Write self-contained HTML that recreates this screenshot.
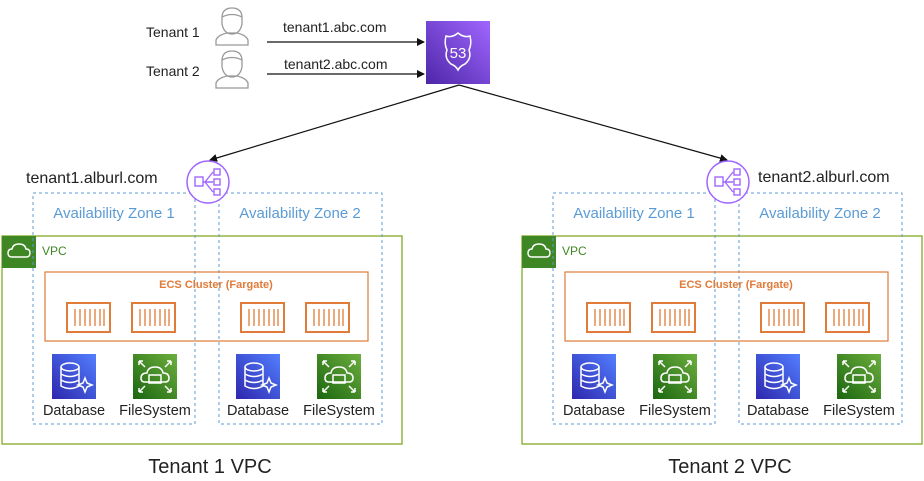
<!DOCTYPE html>
<html><head><meta charset="utf-8"><style>
body{margin:0;background:#fff;}
svg{display:block;font-family:"Liberation Sans","DejaVu Sans",sans-serif;}
</style></head><body>
<svg width="924" height="481" viewBox="0 0 924 481" xmlns="http://www.w3.org/2000/svg">
<defs>
<marker id="ah" markerWidth="8" markerHeight="8" refX="7" refY="4" orient="auto" markerUnits="userSpaceOnUse"><path d="M0,0 L8,4 L0,8 z" fill="#111"/></marker>
<linearGradient id="r53" x1="0" y1="1" x2="1" y2="0"><stop offset="0" stop-color="#4d27a8"/><stop offset="1" stop-color="#a166ff"/></linearGradient>
<linearGradient id="db" x1="0" y1="1" x2="1" y2="0"><stop offset="0" stop-color="#2e27ad"/><stop offset="1" stop-color="#527fff"/></linearGradient>
<linearGradient id="fs" x1="0" y1="1" x2="1" y2="0"><stop offset="0" stop-color="#1b660f"/><stop offset="1" stop-color="#6cae3e"/></linearGradient>
<g id="person" fill="none" stroke="#999" stroke-width="1.3">
<path d="M-10,-8 Q-10,-18 0,-18 Q10,-18 10,-8 L10,-2 Q8,8 0,8 Q-8,8 -10,-2 Z"/>
<path d="M-10,-9 Q0,-14 10,-9"/>
<path d="M-16,19 L-16,14 Q-14,9 -5,7 L5,7 Q14,9 16,14 L16,19 Z"/>
</g>
<g id="cont" fill="none" stroke="#e07b39" stroke-width="2">
<rect x="0" y="0" width="43" height="29"/>
<path d="M8,6V23M13,6V23M18,6V23M23,6V23M28,6V23M33,6V23M37,6V23" stroke-width="1.3"/>
</g>
<g id="dbi">
<rect width="44" height="45" fill="url(#db)"/>
<g fill="none" stroke="#fff" stroke-width="1.5"><ellipse cx="18" cy="13" rx="9" ry="4"/><path d="M9,13V32Q18,37 27,32V13M9,20Q18,25 27,20M9,26Q18,31 27,26"/><path d="M33,24l2,5 5,2 -5,2 -2,5 -2,-5 -5,-2 5,-2z"/></g>
</g>
<g id="fsi">
<rect width="44" height="45" fill="url(#fs)"/>
<g fill="none" stroke="#fff" stroke-width="1.5"><path d="M12,28Q8,28 8,24Q8,19 14,19Q15,13 22,13Q29,13 30,19Q36,19 36,24Q36,28 32,28Z"/><rect x="16" y="21" width="12" height="8"/><path d="M6,7l6,6M6,7h4M6,7v4M38,7l-6,6M38,7h-4M38,7v4M6,38l6,-6M6,38h4M6,38v-4M38,38l-6,-6M38,38h-4M38,38v-4"/></g>
</g>
<g id="alb">
<circle cx="0" cy="0" r="21" fill="#fff" stroke="#a166ff" stroke-width="1.5"/>
<g fill="none" stroke="#a166ff" stroke-width="1.4"><rect x="-13" y="-5" width="8" height="9"/><rect x="6" y="-13" width="6" height="6"/><rect x="6" y="-3" width="6" height="6"/><rect x="6" y="7" width="6" height="6"/><path d="M-5,0H5M-3,0L5,-10M-3,0L5,10"/></g>
</g>
<g id="block">
<rect x="2" y="236" width="400" height="208" fill="none" stroke="#7aa116" stroke-width="1.2"/>
<rect x="2" y="236" width="34" height="32" fill="#3f8624"/>
<path d="M12,257Q8,257 8,253Q8,249 12,249Q13,244 19,244Q25,244 26,249Q30,249 30,253Q30,257 26,257Z" fill="none" stroke="#fff" stroke-width="1.4"/>
<text x="42" y="255" font-size="12" fill="#3f8624">VPC</text>
<rect x="33" y="193" width="162" height="231" fill="none" stroke="#5b9bd5" stroke-width="1" stroke-dasharray="3,3"/>
<rect x="219" y="193" width="163" height="231" fill="none" stroke="#5b9bd5" stroke-width="1" stroke-dasharray="3,3"/>
<text x="114" y="218" font-size="15" fill="#5b9bd5" text-anchor="middle">Availability Zone 1</text>
<text x="300" y="218" font-size="15" fill="#5b9bd5" text-anchor="middle">Availability Zone 2</text>
<rect x="45" y="272" width="323" height="69" fill="none" stroke="#e07b39" stroke-width="1.2"/>
<text x="216" y="288" font-size="11" font-weight="bold" fill="#e07b39" text-anchor="middle">ECS Cluster (Fargate)</text>
<use href="#cont" x="67" y="303"/><use href="#cont" x="132" y="303"/><use href="#cont" x="241" y="303"/><use href="#cont" x="306" y="303"/>
<use href="#dbi" x="52" y="354"/><use href="#fsi" x="133" y="354"/><use href="#dbi" x="236" y="354"/><use href="#fsi" x="317" y="354"/>
<g font-size="14.5" fill="#222" text-anchor="middle"><text x="74" y="415">Database</text><text x="155" y="415">FileSystem</text><text x="258" y="415">Database</text><text x="339" y="415">FileSystem</text></g>
</g>
</defs>

<text x="146" y="37" font-size="14" fill="#222">Tenant 1</text>
<text x="146" y="76" font-size="14" fill="#222">Tenant 2</text>
<use href="#person" x="232" y="26"/>
<use href="#person" x="232" y="69"/>
<line x1="267" y1="42" x2="424" y2="42" stroke="#111" stroke-width="1.2" marker-end="url(#ah)"/>
<line x1="267" y1="74" x2="424" y2="74" stroke="#111" stroke-width="1.2" marker-end="url(#ah)"/>
<text x="283" y="32" font-size="14" fill="#222">tenant1.abc.com</text>
<text x="284" y="69" font-size="14" fill="#222">tenant2.abc.com</text>
<rect x="426" y="21" width="64" height="63" fill="url(#r53)"/>
<path d="M446,36 Q452,38 458,33 Q464,38 470,36 Q472,44 469,50 Q472,58 465,64 Q460,66 458,70 Q456,66 451,64 Q444,58 447,50 Q444,44 446,36Z" fill="none" stroke="#fff" stroke-width="1.5"/>
<text x="458" y="58" font-size="15" fill="#fff" text-anchor="middle">53</text>
<line x1="459" y1="85" x2="210" y2="160" stroke="#111" stroke-width="1.2" marker-end="url(#ah)"/>
<line x1="459" y1="85" x2="727" y2="160" stroke="#111" stroke-width="1.2" marker-end="url(#ah)"/>

<use href="#block"/>
<use href="#block" x="520"/>
<use href="#alb" x="208" y="182"/>
<use href="#alb" x="728" y="182"/>
<text x="26" y="183" font-size="16" fill="#222">tenant1.alburl.com</text>
<text x="758" y="182" font-size="16" fill="#222">tenant2.alburl.com</text>
<text x="210" y="473" font-size="20" fill="#222" text-anchor="middle">Tenant 1 VPC</text>
<text x="730" y="473" font-size="20" fill="#222" text-anchor="middle">Tenant 2 VPC</text>
</svg>
</body></html>
